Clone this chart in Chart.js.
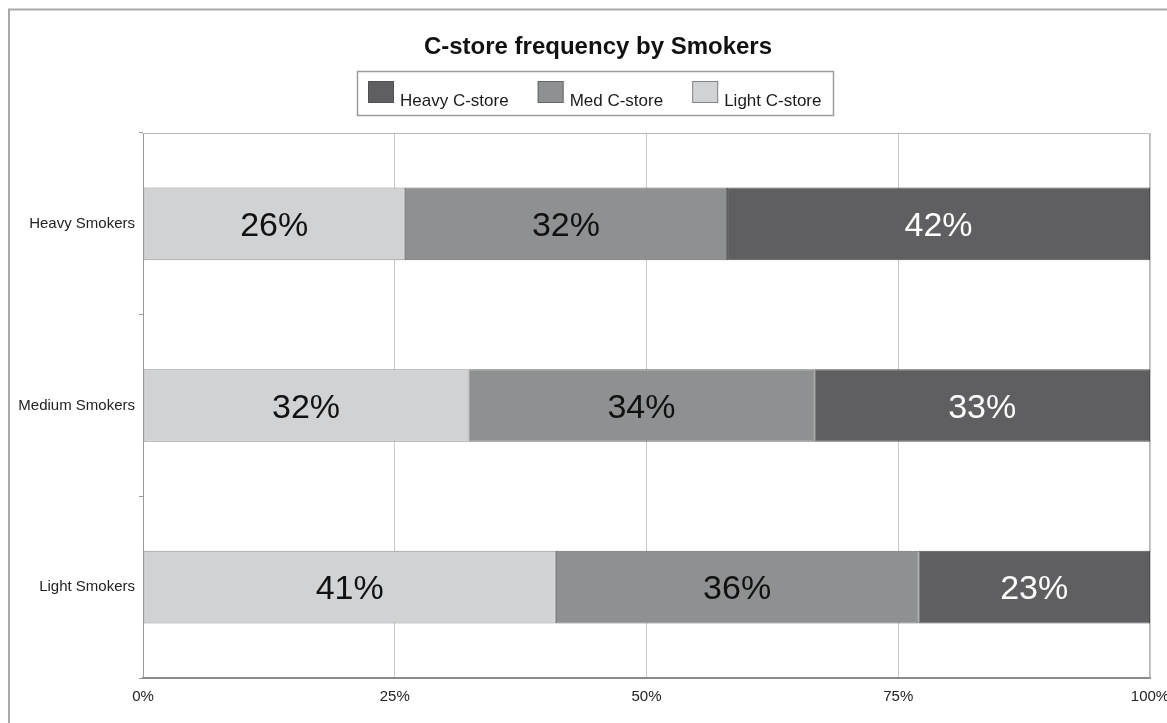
<!DOCTYPE html>
<html>
<head>
<meta charset="utf-8">
<script src="https://cdn.jsdelivr.net/npm/chart.js@4.4.1/dist/chart.umd.min.js"></script>
<style>
  html, body { margin: 0; padding: 0; background: #ffffff; }
  #wrap { width: 1167px; height: 723px; position: relative; }
  canvas { display: block; }
</style>
</head>
<body>
<div id="wrap"><canvas id="c" width="1167" height="723"></canvas></div>
<script>
// Store-visit frequency shares per smoker group
const categories = ['Heavy Smokers', 'Medium Smokers', 'Light Smokers'];
const lightStore = [26, 32, 41];
const medStore = [32, 34, 36];
const heavyStore = [42, 33, 23];
const seriesNames = ['Light C-store', 'Med C-store', 'Heavy C-store'];
const xTickValues = [0, 25, 50, 75, 100];
const chartTitle = 'C-store frequency by Smokers';

const seriesColors = ['#d1d2d4', '#8e9091', '#5f5f61'];
const seriesBorders = ['#8f9092', '#6a6b6c', '#4e4e50'];
const labelColors = ['#111111', '#111111', '#ffffff'];
const FONT = '"Liberation Sans", Arial, Helvetica, sans-serif';

const series = [lightStore, medStore, heavyStore];
const rowTotals = categories.map((_, i) => series.reduce((s, arr) => s + arr[i], 0));
// each row is scaled so the stacked bar fills 100%
const toShare = arr => arr.map((v, i) => v / rowTotals[i] * 100);

const datasets = series.map((arr, k) => ({
  label: seriesNames[k],
  data: toShare(arr),
  raw: arr,
  backgroundColor: seriesColors[k],
  borderColor: seriesBorders[k],
  borderWidth: 1,
  borderSkipped: false,
  barPercentage: 0.4,
  categoryPercentage: 1.0
}));

// white page with the outer frame lines
const pageFrame = {
  id: 'pageFrame',
  beforeDraw(chart) {
    const ctx = chart.ctx;
    ctx.save();
    ctx.fillStyle = '#ffffff';
    ctx.fillRect(0, 0, chart.width, chart.height);
    ctx.strokeStyle = '#a9a9a9';
    ctx.lineWidth = 2;
    ctx.beginPath();
    ctx.moveTo(9, chart.height);
    ctx.lineTo(9, 9.5);
    ctx.lineTo(chart.width, 9.5);
    ctx.stroke();
    ctx.restore();
  }
};

// border round the plotting area
const plotFrame = {
  id: 'plotFrame',
  beforeDatasetsDraw(chart) {
    const a = chart.chartArea;
    const ctx = chart.ctx;
    ctx.save();
    ctx.strokeStyle = '#b8b8b8';
    ctx.lineWidth = 1;
    ctx.beginPath();
    ctx.moveTo(a.left, a.top + 0.5);
    ctx.lineTo(a.right - 0.5, a.top + 0.5);
    ctx.lineTo(a.right - 0.5, a.bottom);
    ctx.stroke();
    ctx.restore();
  }
};

// percentage text inside each segment
const segmentLabels = {
  id: 'segmentLabels',
  afterDatasetsDraw(chart) {
    const ctx = chart.ctx;
    ctx.save();
    ctx.font = '34px ' + FONT;
    ctx.textAlign = 'center';
    ctx.textBaseline = 'alphabetic';
    chart.data.datasets.forEach((ds, k) => {
      const meta = chart.getDatasetMeta(k);
      meta.data.forEach((bar, i) => {
        const p = bar.getProps(['x', 'y', 'base'], true);
        const cx = (p.x + p.base) / 2;
        ctx.fillStyle = labelColors[k];
        ctx.fillText(ds.raw[i] + '%', cx, p.y + 12);
      });
    });
    ctx.restore();
  }
};

// title and boxed legend
const header = {
  id: 'header',
  afterDraw(chart) {
    const ctx = chart.ctx;
    ctx.save();
    ctx.fillStyle = '#111111';
    ctx.font = 'bold 24px ' + FONT;
    ctx.textAlign = 'center';
    ctx.textBaseline = 'alphabetic';
    ctx.fillText(chartTitle, 598, 54);

    // legend box
    const lx = 357, ly = 71, lw = 476, lh = 44;
    ctx.fillStyle = '#ffffff';
    ctx.fillRect(lx, ly, lw, lh);
    ctx.strokeStyle = '#9c9c9c';
    ctx.lineWidth = 1.5;
    ctx.strokeRect(lx + 0.5, ly + 0.5, lw, lh);

    ctx.font = '17px ' + FONT;
    ctx.textAlign = 'left';
    let x = 368;
    const order = [2, 1, 0];
    order.forEach(k => {
      const ds = chart.data.datasets[k];
      ctx.fillStyle = ds.backgroundColor;
      ctx.fillRect(x, 81, 26, 22);
      ctx.strokeStyle = 'rgba(70,70,70,0.55)';
      ctx.lineWidth = 1;
      ctx.strokeRect(x + 0.5, 81.5, 25, 21);
      ctx.fillStyle = '#1a1a1a';
      ctx.fillText(ds.label, x + 32, 106);
      x += 32 + ctx.measureText(ds.label).width + 29;
    });
    ctx.restore();
  }
};

new Chart(document.getElementById('c'), {
  type: 'bar',
  data: { labels: categories, datasets },
  options: {
    indexAxis: 'y',
    responsive: false,
    animation: false,
    devicePixelRatio: 1,
    layout: { padding: { top: 133, right: 17, bottom: 0, left: 0 } },
    plugins: {
      legend: { display: false },
      title: { display: false },
      tooltip: { enabled: false }
    },
    scales: {
      x: {
        stacked: true,
        min: 0,
        max: 100,
        afterBuildTicks(scale) {
          scale.ticks = xTickValues.map(v => ({ value: v }));
        },
        ticks: {
          callback: v => v + '%',
          color: '#222222',
          font: { family: FONT, size: 15 },
          padding: 10,
          maxRotation: 0,
          autoSkip: false
        },
        grid: { color: '#c9c9c9', lineWidth: 1, drawTicks: false },
        border: { display: true, color: '#8a8a8a', width: 2 },
        afterFit(scale) {
          scale.height = 45;
          scale.paddingLeft = 0;
          scale.paddingRight = 0;
        }
      },
      y: {
        stacked: true,
        ticks: {
          color: '#222222',
          font: { family: FONT, size: 15 },
          padding: 4
        },
        grid: { drawOnChartArea: false, drawTicks: true, tickLength: 4, color: '#9a9a9a', offset: true },
        border: { display: true, color: '#9a9a9a', width: 1 },
        afterFit(scale) {
          scale.width = 143;
        }
      }
    }
  },
  plugins: [pageFrame, plotFrame, segmentLabels, header]
});
</script>
</body>
</html>
